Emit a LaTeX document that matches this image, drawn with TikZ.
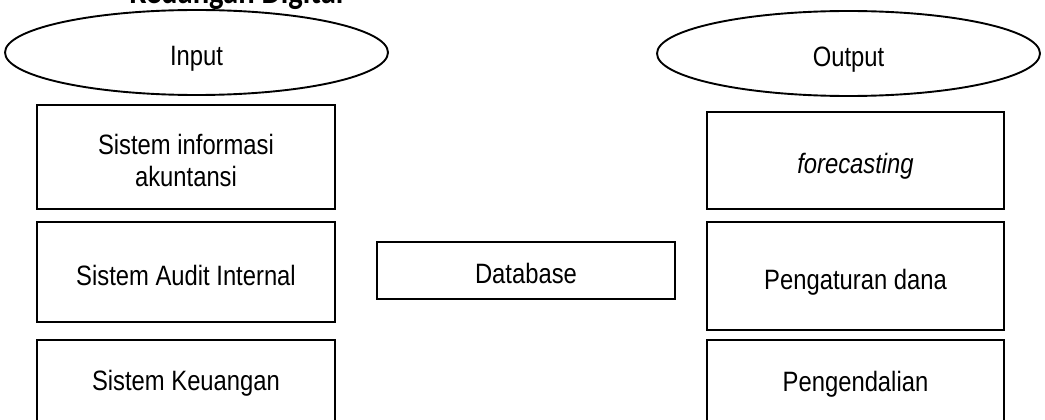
\documentclass[tikz,border=0pt]{standalone}
\usepackage{fontspec}
\setmainfont{Liberation Sans}[FakeStretch=0.85]
\newfontfamily\titlefont{Carlito}[FakeStretch=0.85]
\usetikzlibrary{shapes.geometric,calc}

\begin{document}
\begin{tikzpicture}[x=1pt,y=-1pt,
  every node/.style={font=\fontsize{28}{32}\selectfont},
  oval/.style={draw, ellipse, line width=1.9pt, inner sep=0pt,
    minimum width=383pt, minimum height=85pt},
  box/.style={draw, rectangle, line width=1.9pt, inner sep=0pt},
  lbox/.style={box, minimum width=298pt},
  rbox/.style={box, minimum width=297.5pt},
  txt/.style={align=center, text depth=0pt, inner sep=0pt},
  intext/.style={label={[txt, yshift=-3pt]center:#1}}]

\useasboundingbox (0,0) rectangle (1045,420);
\clip (0,0) rectangle (1045,420);

% heading (partly above the page edge)
\node[font=\titlefont\bfseries\fontsize{36}{40}\selectfont, anchor=base]
  (title) at (236.5,4) {Keuangan Digital};

% input / output ovals
\node[oval, intext=Input]  (input)  at (196.5,52.5) {};
\node[oval, intext=Output] (output) at (848.5,53.5) {};

% input column
\node[lbox, minimum height=104pt, intext={Sistem informasi\\akuntansi}] (sia) at (186,157) {};
\node[lbox, minimum height=100pt, intext={Sistem Audit Internal}] (sai) at (186,272) {};
\node[lbox, minimum height=110pt, anchor=north] (sk) at (186,339) {};
\node[txt] (sktext) at ($(sk.north)+(0,41)$) {Sistem Keuangan};

% central store
\node[box, minimum width=298pt, minimum height=57.5pt, intext=Database] (db) at (526,270.5) {};

% output column
\node[rbox, minimum height=97pt, intext={\itshape forecasting}] (fc) at (855.5,160.5) {};
\node[rbox, minimum height=108pt, intext={Pengaturan dana}] (pd) at (855.5,276) {};
\node[rbox, minimum height=110pt, anchor=north] (pg) at (855.5,339) {};
\node[txt] (pgtext) at ($(pg.north)+(0,42)$) {Pengendalian};

\end{tikzpicture}
\end{document}
